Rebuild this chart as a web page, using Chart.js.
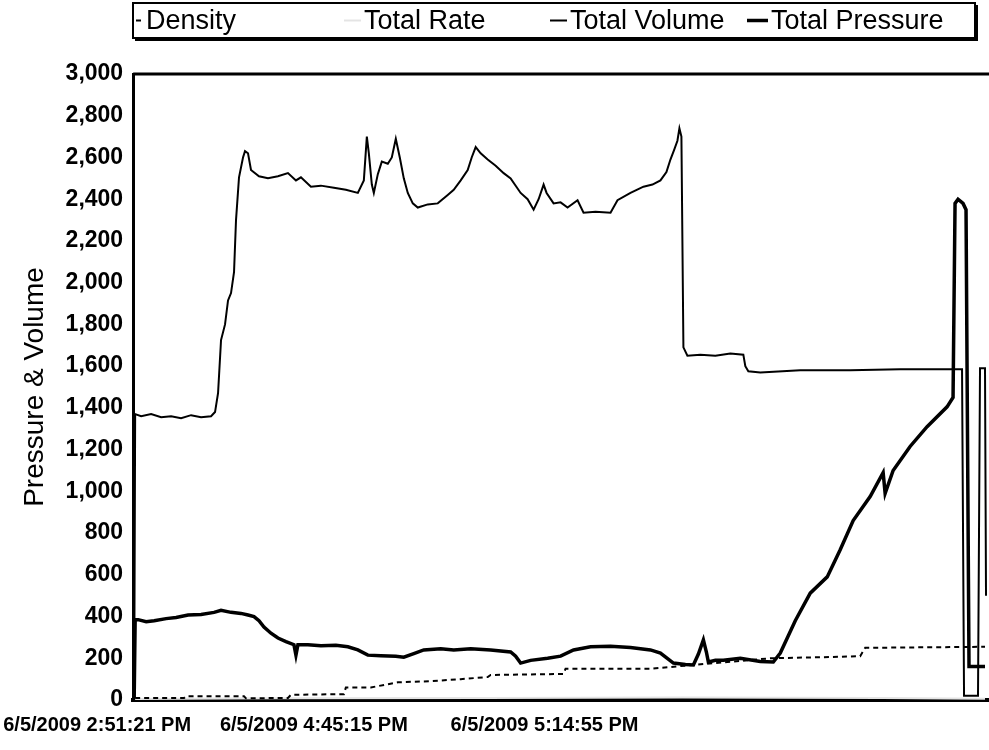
<!DOCTYPE html>
<html><head><meta charset="utf-8">
<script src="https://cdn.jsdelivr.net/npm/chart.js@4.4.1/dist/chart.umd.min.js"></script>
<style>html,body{margin:0;padding:0;background:#fff}#wrap{width:989px;height:750px}</style>
</head><body><div id="wrap"><canvas id="c" width="989" height="750"></canvas></div>
<script>
// x = sample index along the time axis (irregular time categories)
const seriesNames = ['Density', 'Total Rate', 'Total Volume', 'Total Pressure'];
const xTickValues = [0, 217, 448];
const xTickLabels = ['6/5/2009 2:51:21 PM', '6/5/2009 4:45:15 PM', '6/5/2009 5:14:55 PM'];

const densityX = [2, 51, 53, 111, 113, 155, 158, 211, 213, 238, 265, 298, 328, 355, 358, 431, 433, 518, 638, 688, 728, 733, 853];
const densityY = [10, 10, 18, 18, 8, 10, 25, 28, 60, 60, 85, 90, 100, 110, 120, 125, 150, 150, 200, 205, 210, 250, 255];

const rateX = [2, 150, 350, 550, 750, 853];
const rateY = [5, 8, 10, 12, 10, 6];

const volumeX = [1, 2, 8, 18, 28, 38, 48, 58, 68, 78, 82, 85, 88, 92, 95, 98, 101, 103, 106, 110, 112, 115, 118, 126, 135, 145, 155, 163, 168, 178, 188, 201, 213, 225, 231, 234, 236, 239, 241, 245, 249, 255, 259, 263, 267, 271, 275, 280, 285, 295, 305, 315, 321, 328, 335, 339, 343, 348, 355, 363, 371, 378, 388, 395, 401, 406, 411, 414, 421, 428, 435, 445, 451, 463, 478, 485, 498, 511, 520, 528, 534, 538, 542, 545, 547, 549, 551, 555, 568, 583, 598, 611, 613, 616, 628, 668, 718, 768, 808, 830, 832, 846, 848, 853, 854];
const volumeY = [0, 1370, 1360, 1370, 1355, 1360, 1350, 1365, 1355, 1360, 1380, 1470, 1725, 1800, 1915, 1950, 2050, 2300, 2505, 2600, 2630, 2620, 2540, 2510, 2500, 2510, 2525, 2490, 2505, 2460, 2465, 2455, 2445, 2430, 2490, 2700, 2620, 2470, 2430, 2520, 2580, 2570, 2600, 2690, 2600, 2500, 2430, 2380, 2360, 2375, 2380, 2420, 2445, 2490, 2540, 2600, 2650, 2620, 2590, 2560, 2525, 2500, 2430, 2400, 2350, 2400, 2470, 2430, 2380, 2385, 2360, 2395, 2335, 2340, 2335, 2395, 2430, 2460, 2470, 2490, 2530, 2590, 2640, 2680, 2740, 2700, 1690, 1650, 1655, 1650, 1660, 1655, 1600, 1575, 1570, 1580, 1580, 1585, 1585, 1585, 20, 20, 1590, 1590, 500];

const pressureX = [1, 2, 5, 13, 21, 33, 43, 55, 68, 81, 88, 98, 108, 115, 121, 126, 131, 138, 145, 153, 161, 163, 165, 175, 188, 203, 215, 225, 235, 248, 263, 271, 281, 291, 308, 321, 338, 358, 378, 383, 388, 398, 415, 428, 441, 458, 478, 498, 518, 528, 541, 553, 561, 566, 571, 574, 576, 583, 591, 608, 628, 641, 648, 663, 678, 695, 708, 721, 738, 751, 753, 761, 778, 795, 815, 821, 823, 826, 831, 834, 837, 853];
const pressureY = [0, 385, 385, 375, 380, 390, 395, 407, 410, 420, 430, 420, 415, 407, 400, 380, 350, 320, 297, 280, 265, 215, 265, 265, 260, 262, 255, 240, 215, 212, 210, 205, 222, 240, 245, 240, 245, 240, 230, 210, 177, 190, 200, 210, 240, 255, 258, 252, 240, 225, 177, 170, 168, 220, 288, 230, 182, 190, 190, 200, 185, 182, 225, 380, 512, 590, 720, 860, 975, 1090, 990, 1100, 1215, 1310, 1405, 1450, 2380, 2400, 2380, 2350, 160, 160];

function pts(xs, ys) { return xs.map((x, i) => ({ x: x, y: ys[i] })); }

const FONT = 'Liberation Sans, Arial, sans-serif';

const styles = [
  { borderColor: '#000', borderWidth: 2, borderDash: [5, 4] },
  { borderColor: '#e4e4e4', borderWidth: 2, borderDash: [] },
  { borderColor: '#000', borderWidth: 2, borderDash: [] },
  { borderColor: '#000', borderWidth: 3.5, borderDash: [] }
];
const dataSets = [pts(densityX, densityY), pts(rateX, rateY), pts(volumeX, volumeY), pts(pressureX, pressureY)];

const legendLayout = { left: 133, top: 3, right: 975, bottom: 38, items: [[136, 146], [344, 364], [550, 570], [747, 771]], font: '27px ' + FONT };

const boxLegend = {
  id: 'boxLegend',
  afterDraw(chart) {
    const ctx = chart.ctx, L = legendLayout;
    ctx.save();
    ctx.strokeStyle = '#000';
    ctx.lineWidth = 2;
    ctx.strokeRect(L.left, L.top, L.right - L.left, L.bottom - L.top);
    ctx.lineWidth = 3;
    ctx.beginPath();
    ctx.moveTo(L.right + 1.5, L.top + 2); ctx.lineTo(L.right + 1.5, L.bottom + 1.5); ctx.lineTo(L.left + 2, L.bottom + 1.5);
    ctx.stroke();
    const mid = (L.top + L.bottom) / 2;
    ctx.font = L.font;
    ctx.textBaseline = 'middle';
    ctx.textAlign = 'left';
    chart.data.datasets.forEach((ds, i) => {
      const [mx, tx] = L.items[i];
      ctx.save();
      ctx.strokeStyle = ds.borderColor;
      ctx.lineWidth = ds.borderWidth;
      ctx.setLineDash(ds.borderDash || []);
      ctx.beginPath(); ctx.moveTo(mx, mid); ctx.lineTo(tx - 3, mid); ctx.stroke();
      ctx.restore();
      ctx.fillStyle = '#000';
      ctx.fillText(ds.label, tx, mid + 1);
    });
    ctx.restore();
  }
};

const topBorder = {
  id: 'topBorder',
  beforeDatasetsDraw(chart) {
    const { ctx, chartArea } = chart;
    ctx.save();
    ctx.strokeStyle = '#000'; ctx.lineWidth = 3;
    ctx.beginPath(); ctx.moveTo(chartArea.left, chartArea.top); ctx.lineTo(chartArea.right, chartArea.top); ctx.stroke();
    ctx.restore();
  }
};

new Chart(document.getElementById('c'), {
  type: 'line',
  data: {
    datasets: seriesNames.map((name, i) => Object.assign({
      label: name,
      data: dataSets[i],
      pointRadius: 0,
      tension: 0,
      fill: false
    }, styles[i]))
  },
  options: {
    responsive: false,
    animation: false,
    devicePixelRatio: 1,
    layout: { padding: { top: 74, left: 18, right: 0, bottom: 0 } },
    plugins: { legend: { display: false }, tooltip: { enabled: false } },
    scales: {
      x: {
        type: 'linear', min: 0, max: 857,
        afterBuildTicks: (s) => { s.ticks = xTickValues.map(v => ({ value: v })); },
        ticks: {
          autoSkip: false, maxRotation: 0, minRotation: 0,
          callback: (v) => { const k = xTickValues.indexOf(v); return k >= 0 ? xTickLabels[k] : ''; },
          font: { family: FONT, size: 20, weight: 'bold' }, color: '#000', labelOffset: -36, padding: 13
        },
        grid: { display: false, drawTicks: false },
        border: { display: true, color: '#000', width: 4 }
      },
      y: {
        min: 0, max: 3000,
        ticks: {
          stepSize: 200,
          callback: (v) => v.toLocaleString('en-US'),
          font: { family: FONT, size: 23, weight: 'bold' }, color: '#000', padding: 10
        },
        grid: { display: false, drawTicks: false },
        border: { display: true, color: '#000', width: 3 },
        title: { display: true, text: 'Pressure & Volume', font: { family: FONT, size: 28 }, color: '#000', padding: { top: 0, bottom: 4 } }
      }
    }
  },
  plugins: [boxLegend, topBorder]
});
</script>
</body></html>
